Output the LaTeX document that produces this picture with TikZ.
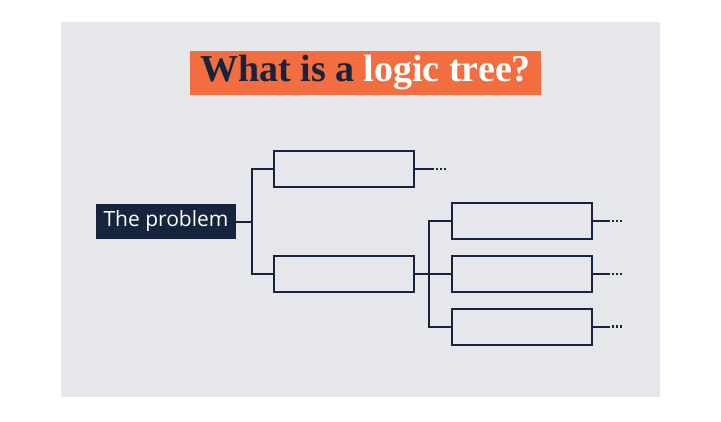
\documentclass[tikz,border=0pt]{standalone}
\usepackage{fontspec}
\setmainfont{Liberation Serif}
\newfontfamily\boxfont{Open Sans}
\definecolor{bgray}{HTML}{E6E7EB}
\definecolor{navy}{HTML}{16243D}
\definecolor{orng}{HTML}{F26D3F}
\tikzset{
  leaf/.style={draw=navy, line width=2pt, minimum width=140pt, minimum height=36pt, inner sep=0pt},
  conn/.style={draw=navy, line width=2pt},
  dotsline/.style={draw=navy, line width=2.2pt, dash pattern=on 2pt off 2pt}
}
\begin{document}
\begin{tikzpicture}[x=1pt,y=-1pt]
\useasboundingbox (0,0) rectangle (721,421);
\fill[bgray] (61,22) rectangle (660,397);
\node[fill=orng, minimum width=351pt, minimum height=44pt, inner sep=0pt] (title) at (365.5,73)
  {\fontsize{38}{40}\selectfont\bfseries\textcolor{navy}{What is a} \textcolor{white}{logic tree?}};
\node[fill=navy, minimum width=140pt, minimum height=35pt, inner sep=0pt, text=white] (prob) at (166,221.5)
  {\boxfont\fontsize{21}{24}\selectfont The problem};
\node[leaf] (a) at (344,169) {};
\node[leaf] (b) at (344,274) {};
\node[leaf] (c) at (521.5,221) {};
\node[leaf] (d) at (521.5,274) {};
\node[leaf] (e) at (521.5,326.5) {};
\coordinate (j1) at (252,221.5);
\coordinate (j2) at (429,274);
\coordinate (ae) at (434,169);
\coordinate (ce) at (610,221);
\coordinate (de) at (610,274);
\coordinate (ee) at (610,326.5);
\draw[conn] (prob.east) -- (j1);
\draw[conn] (a.west) -| (j1) |- (b.west);
\draw[conn] (b.east) -- (d.west);
\draw[conn] (c.west) -| (j2) |- (e.west);
\draw[conn] (a.east) -- (ae);
\draw[conn] (c.east) -- (ce);
\draw[conn] (d.east) -- (de);
\draw[conn] (e.east) -- (ee);
\draw[dotsline] ([xshift=2pt]ae) -- ++(11,0);
\draw[dotsline] ([xshift=2pt]ce) -- ++(11,0);
\draw[dotsline] ([xshift=2pt]de) -- ++(11,0);
\draw[dotsline] ([xshift=2pt]ee) -- ++(11,0);
\end{tikzpicture}
\end{document}
